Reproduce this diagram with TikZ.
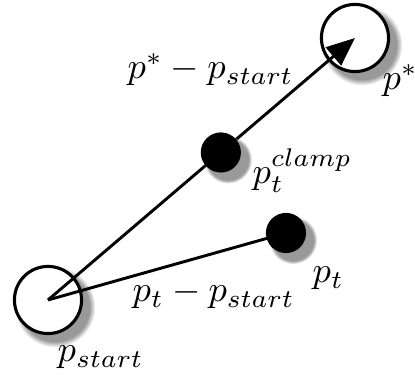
\documentclass[tikz,border=0pt]{standalone}
\usetikzlibrary{shadows,arrows.meta,calc}
\pgfdeclarelayer{mid}
\pgfdeclarelayer{front}
\pgfsetlayers{main,mid,front}
\tikzset{
  shad/.style={circular drop shadow={shadow xshift=1.6pt, shadow yshift=-1.6pt, shadow scale=1.2, opacity=0.8}},
  bigcirc/.style={circle, draw, line width=0.85pt, fill=white, minimum size=18.4pt, inner sep=0pt, shad},
  dot/.style={circle, fill=black, minimum size=11pt, inner sep=0pt, shad},
  conn/.style={line width=0.8pt},
  lbl/.style={inner sep=0pt, anchor=base west}
}
\begin{document}
\begin{tikzpicture}[x=0.274pt,y=-0.274pt]
\useasboundingbox (0,0) rectangle (415,377);
\node[bigcirc] (start) at (48,300) {};
\node[bigcirc] (target) at (355,38) {};
\begin{pgfonlayer}{front}
\node[dot] (clamp) at ($(start)!0.563!(target)$) {};
\node[dot] (pt) at (286,233) {};
\end{pgfonlayer}
\begin{pgfonlayer}{mid}
\draw[conn,-{Triangle[length=7.8pt,width=6.4pt]}] (start.center) -- (target.center);
\draw[conn] (start.center) -- (pt.center);
\end{pgfonlayer}
\node[lbl] (ldiff) at (127,79) {$p^*-p_{start}$};
\node[lbl] (ltarget) at (382,90) {$p^*$};
\node[lbl] (lclamp) at (252,184) {$p_t^{clamp}$};
\node[lbl] (lpt) at (312,283) {$p_t$};
\node[lbl] (lptdiff) at (132,302) {$p_t-p_{start}$};
\node[lbl] (lstart) at (57,362) {$p_{start}$};
\end{tikzpicture}
\end{document}
